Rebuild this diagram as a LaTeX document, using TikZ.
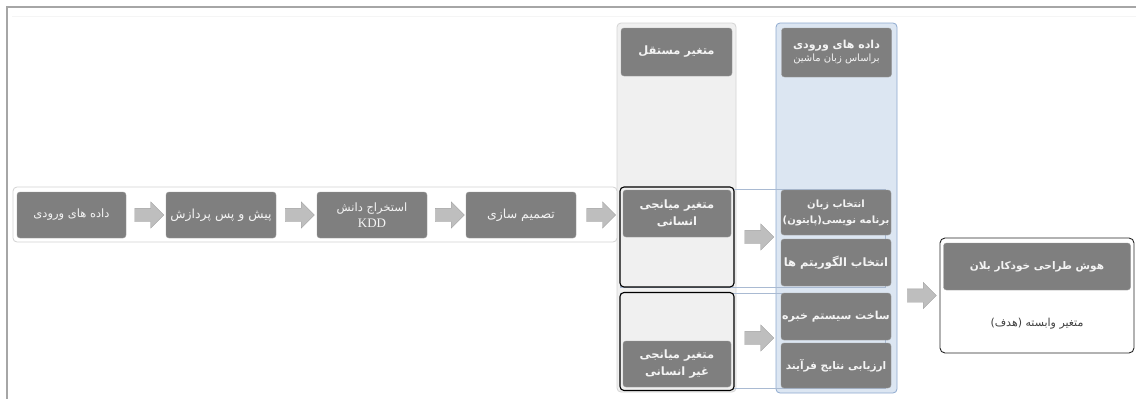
\documentclass[tikz,border=0pt]{standalone}
\usepackage{fontspec}
\usetikzlibrary{shapes.arrows,calc}
\newfontfamily\fa[Script=Arabic]{DejaVu Sans}
\newfontfamily\lat{Liberation Serif}
\TeXXeTstate=1
\newcommand{\rl}[1]{\beginR #1\endR}
\definecolor{dgray}{HTML}{7F7F7F}
\definecolor{colgray}{HTML}{F0F0F0}
\definecolor{colgrayb}{HTML}{D4D4D4}
\definecolor{colblue}{HTML}{DCE6F2}
\definecolor{colblueb}{HTML}{8EA9CF}
\definecolor{grpline}{HTML}{A9BAD2}
\definecolor{arrowc}{HTML}{BEBEBE}
\definecolor{txtw}{HTML}{F4F4F4}
\tikzset{
  dbox/.style={rectangle, rounded corners=3pt, fill=dgray, draw=dgray!80!white, text=txtw, inner sep=1pt, align=center},
  col/.style={rectangle, rounded corners=4pt, line width=0.8pt},
  grp/.style={rectangle, draw=grpline, line width=0.8pt},
  blk/.style={rectangle, rounded corners=4pt, draw=black, line width=1.1pt},
  barrow/.style={single arrow, fill=arrowc, draw=arrowc!85!black, line width=0.3pt, minimum height=29pt, single arrow head extend=6.5pt, inner sep=0pt, shape border rotate=0},
}
\newcommand{\shaft}{\rule{0pt}{13pt}}
\begin{document}
\begin{tikzpicture}[x=1pt, y=-1pt]
\useasboundingbox (0,0) rectangle (1136,399);
% frame
\coordinate (fr1) at (7,399);
\coordinate (fr2) at (7,7);
\coordinate (fr3) at (1136,7);
\draw[gray!70, line width=1.3pt] (fr1) -- (fr2) -- (fr3);
\coordinate (fl1) at (12,16);
\coordinate (fl2) at (1136,16);
\draw[gray!8, line width=1pt] (fl1) -- (fl2);

% columns
\node[col, fill=colgray, draw=colgrayb, minimum width=119pt, minimum height=369pt] (colI) at (676.5,207.5) {};
\node[col, fill=colblue, draw=colblueb, minimum width=121pt, minimum height=370pt] (colB) at (836.5,208) {};

% groups
\node[grp, minimum width=265pt, minimum height=98pt] (gH) at (752.5,238.5) {};
\node[grp, minimum width=265pt, minimum height=95pt] (gN) at (752.5,340.5) {};

% main row container
\node[rectangle, rounded corners=4pt, draw=gray!35, fill=white, line width=0.8pt, minimum width=604pt, minimum height=55pt] (row) at (315,214.5) {};

% main row boxes
\node[dbox, font=\fa\fontsize{11.5}{14}\selectfont, minimum width=109pt, minimum height=46pt] (b1) at (71.5,215) {\rl{داده های ورودی}};
\node[dbox, font=\fa\fontsize{12.5}{15}\selectfont, minimum width=110pt, minimum height=46pt] (b2) at (221,215) {\rl{پیش و پس پردازش}};
\node[dbox, font=\fa\fontsize{11.5}{17}\selectfont, minimum width=110pt, minimum height=46pt] (b3) at (372,215) {\rl{استخراج دانش}\\[-1pt]{\lat\fontsize{13}{15}\selectfont KDD}};
\node[dbox, font=\fa\fontsize{12.5}{15}\selectfont, minimum width=110pt, minimum height=46pt] (b4) at (521,215) {\rl{تصمیم سازی}};

% column headers
\node[dbox, font=\fa\bfseries\fontsize{11.5}{14}\selectfont, minimum width=111pt, minimum height=48pt] (hI) at (676.5,52) {\rl{متغیر مستقل}};
\node[dbox, minimum width=110pt, minimum height=49pt] (hB) at (836.5,52.5) {{\fa\bfseries\fontsize{11}{14}\selectfont\rl{داده های ورودی}}\\[1pt]{\fa\fontsize{10}{12}\selectfont\rl{براساس زبان ماشین}}};

% black group boxes
\node[blk, fill=colgray, minimum width=114pt, minimum height=100pt] (kH) at (677,237) {};
\node[blk, fill=colgray, minimum width=114pt, minimum height=98pt] (kN) at (677,341.5) {};
\node[dbox, font=\fa\bfseries\fontsize{11.5}{17}\selectfont, minimum width=108pt, minimum height=47pt] (hH) at (677,213.5) {\rl{متغیر میانجی}\\\rl{انسانی}};
\node[dbox, font=\fa\bfseries\fontsize{11.5}{17}\selectfont, minimum width=108pt, minimum height=46pt] (hN) at (677,364) {\rl{متغیر میانجی}\\\rl{غیر انسانی}};

% blue column boxes
\node[dbox, font=\fa\bfseries\fontsize{10}{16}\selectfont, minimum width=110pt, minimum height=45pt] (c1) at (836,212.5) {\rl{انتخاب زبان}\\\rl{برنامه نویسی(پایتون)}};
\node[dbox, font=\fa\bfseries\fontsize{11.5}{14}\selectfont, minimum width=110pt, minimum height=47pt] (c2) at (836,262.5) {\rl{انتخاب الگوریتم ها}};
\node[dbox, font=\fa\bfseries\fontsize{11}{14}\selectfont, minimum width=110pt, minimum height=47pt] (c3) at (836,316.5) {\rl{ساخت سیستم خبره}};
\node[dbox, font=\fa\bfseries\fontsize{10.5}{14}\selectfont, minimum width=110pt, minimum height=45pt] (c4) at (836,365.5) {\rl{ارزیابی نتایج فرآیند}};

% final box
\node[rectangle, rounded corners=5pt, draw=black!85, fill=white, line width=0.9pt, minimum width=194pt, minimum height=115pt] (fin) at (1037,295.5) {};
\node[dbox, font=\fa\bfseries\fontsize{10.5}{14}\selectfont, minimum width=187pt, minimum height=47pt] (hF) at (1037,266.5) {\rl{هوش طراحی خودکار بلان}};
\node[font=\fa\fontsize{11}{14}\selectfont, text=black!75] (tF) at (1037,324) {\rl{متغیر وابسته (هدف)}};

% block arrows
\node[barrow] (a1) at ($(b1.east)!0.5!(b2.west)$) {\shaft};
\node[barrow] (a2) at ($(b2.east)!0.5!(b3.west)$) {\shaft};
\node[barrow] (a3) at ($(b3.east)!0.5!(b4.west)$) {\shaft};
\node[barrow] (a4) at ($(b4.east)!0.5!(kH.west|-b4.east)$) {\shaft};
\node[barrow] (m1) at (756,237) {\shaft};
\node[barrow] (m2) at (756,338) {\shaft};
\node[barrow] (a5) at ($(colB.east|-fin.west)!0.5!(fin.west)$) {\shaft};
\end{tikzpicture}
\end{document}
